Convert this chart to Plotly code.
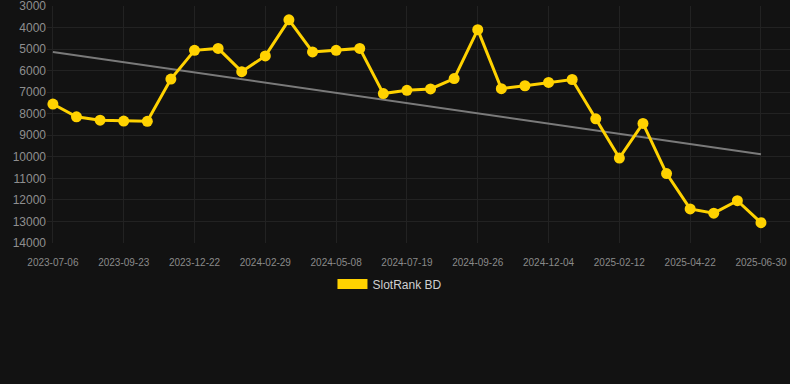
import numpy as np
import plotly.graph_objects as go

dates = [
    "2023-07-06", "2023-08-01", "2023-08-27", "2023-09-23", "2023-10-23", "2023-11-22",
    "2023-12-22", "2024-01-15", "2024-02-07", "2024-02-29", "2024-03-23", "2024-04-15",
    "2024-05-08", "2024-06-01", "2024-06-25", "2024-07-19", "2024-08-11", "2024-09-03",
    "2024-09-26", "2024-10-19", "2024-11-11", "2024-12-04", "2024-12-27", "2025-01-19",
    "2025-02-12", "2025-03-07", "2025-03-30", "2025-04-22", "2025-05-15", "2025-06-07",
    "2025-06-30",
]
rank = [
    7550, 8145, 8300, 8340, 8350, 6390, 5055, 4965, 6045, 5315, 3640, 5130,
    5055, 4965, 7065, 6910, 6850, 6365, 4095, 6835, 6700, 6545, 6410, 8235,
    10060, 8450, 10780, 12420, 12620, 12040, 13060,
]
tick_dates = dates[::3]
y_ticks = list(range(3000, 14001, 1000))
y_tick_text = [str(v) for v in y_ticks]
series_name = "SlotRank BD"

# linear trend
idx = np.arange(len(rank))
slope, intercept = np.polyfit(idx, rank, 1)
trend = slope * idx + intercept

YELLOW = "#FFD200"
BG = "#121212"
GRID = "#222222"

fig = go.Figure()
fig.add_trace(go.Scatter(
    x=dates, y=trend, mode="lines",
    line=dict(color="#7a7a7a", width=2),
    showlegend=False, hoverinfo="skip",
))
fig.add_trace(go.Scatter(
    x=dates, y=rank, mode="lines+markers",
    line=dict(color=YELLOW, width=3),
    marker=dict(color=YELLOW, size=11),
    showlegend=False,
))
# legend entry
fig.add_trace(go.Scatter(
    x=[None], y=[None], mode="lines", name=series_name,
    line=dict(color=YELLOW, width=11),
))

fig.update_layout(
    width=790, height=384,
    margin=dict(l=47, r=0, t=6, b=141),
    paper_bgcolor=BG, plot_bgcolor=BG,
    font=dict(family="Arial, Liberation Sans, sans-serif", color="#999999"),
    showlegend=True,
    legend=dict(
        orientation="h", x=0.4616, xanchor="center", y=-0.173, yanchor="middle",
        font=dict(size=12, color="#d0d0d0"), bgcolor="rgba(0,0,0,0)",
    ),
    xaxis=dict(
        type="category", categoryorder="array", categoryarray=dates,
        range=[-0.25, 31.23],
        tickmode="array", tickvals=tick_dates, ticktext=tick_dates,
        tickfont=dict(size=10, color="#8a8a8a"),
        showgrid=True, gridcolor=GRID, gridwidth=1,
        ticks="outside", ticklen=10, tickcolor=BG,
        showline=False, zeroline=False, tickangle=0,
        ticklabeloverflow="allow",
    ),
    yaxis=dict(
        range=[14004, 2996],
        tickmode="array", tickvals=y_ticks, ticktext=y_tick_text,
        tickfont=dict(size=12, color="#8f8f8f"),
        showgrid=True, gridcolor=GRID, gridwidth=1,
        showline=False, zeroline=False, ticks="",
        ticklabeloverflow="allow",
    ),
)

fig.write_html(
    "out.html",
    config={"displayModeBar": False},
    post_script="document.body.style.margin='0';document.body.style.background='#121212';",
)
